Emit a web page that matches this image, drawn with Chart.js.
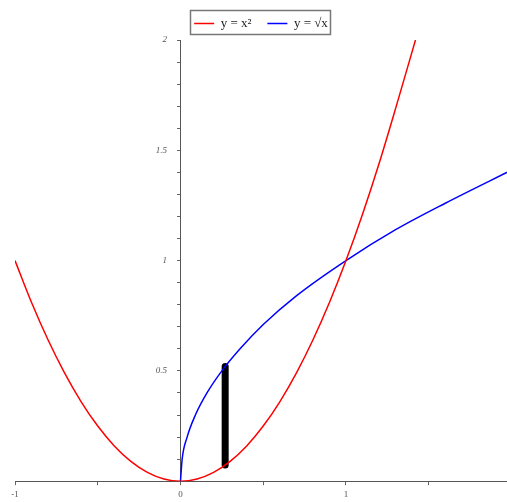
<!DOCTYPE html>
<html>
<head>
<meta charset="utf-8">
<script src="https://cdn.jsdelivr.net/npm/chart.js@4.4.0/dist/chart.umd.min.js"></script>
<style>
  html, body { margin: 0; padding: 0; background: #fff; }
  #wrap { width: 507px; height: 502px; }
</style>
</head>
<body>
<div id="wrap"><canvas id="plot"></canvas></div>
<script>
// y = x^2
const redX = [-1, -0.9, -0.8, -0.7, -0.6, -0.5, -0.4, -0.3, -0.2, -0.1, 0, 0.1, 0.2, 0.3, 0.4, 0.5, 0.6, 0.7, 0.8, 0.9, 1, 1.1, 1.2, 1.3, 1.42];
const redY = [1, 0.81, 0.64, 0.49, 0.36, 0.25, 0.16, 0.09, 0.04, 0.01, 0, 0.01, 0.04, 0.09, 0.16, 0.25, 0.36, 0.49, 0.64, 0.81, 1, 1.21, 1.44, 1.69, 2.0];
// y = sqrt(x), blue curve
const blueX = [0, 0.01, 0.04, 0.09, 0.16, 0.25, 0.36, 0.5, 0.7, 1, 1.3, 1.6, 2];
const blueY = [0, 0.1, 0.2, 0.3, 0.4, 0.5, 0.6, 0.71, 0.84, 1, 1.14, 1.26, 1.41];
// thick black segment
const barX = [0.27, 0.27];
const barY = [0.073, 0.52];

const legendNames = ['y = x\u00B2', 'y = \u221Ax'];

function pts(xs, ys) {
    return xs.map(function (x, i) { return { x: x, y: ys[i] }; });
}

// box round the legend items
const legendFrame = {
    id: 'legendFrame',
    afterDraw(chart) {
        const boxes = chart.legend.legendHitBoxes;
        if (!boxes || !boxes.length) return;
        let l = Infinity, r = -Infinity, t = Infinity, b = -Infinity;
        boxes.forEach(function (h) {
            l = Math.min(l, h.left); r = Math.max(r, h.left + h.width);
            t = Math.min(t, h.top); b = Math.max(b, h.top + h.height);
        });
        const ctx = chart.ctx;
        ctx.save();
        ctx.strokeStyle = '#777';
        ctx.lineWidth = 1.5;
        ctx.strokeRect(Math.round(l) - 3.5, Math.round(t) - 6.5, Math.round(r - l) + 6, Math.round(b - t) + 11);
        ctx.restore();
    }
};

const data = {
    datasets: [
        {
            label: legendNames[0],
            data: pts(redX, redY),
            borderColor: '#ff0000',
            borderWidth: 1.5,
            pointRadius: 0,
            cubicInterpolationMode: 'monotone',
        },
        {
            label: legendNames[1],
            data: pts(blueX, blueY),
            borderColor: '#0000ff',
            borderWidth: 1.5,
            pointRadius: 0,
            cubicInterpolationMode: 'monotone',
        },
        {
            label: 'bar',
            data: pts(barX, barY),
            borderColor: '#000000',
            borderWidth: 7,
            borderCapStyle: 'round',
            pointRadius: 0,
        }
    ]
};

const config = {
    type: 'line',
    data: data,
    plugins: [legendFrame],
    options: {
        responsive: true,
        maintainAspectRatio: false,
        animation: false,
        layout: { padding: { left: 15, right: 0, top: 1, bottom: -2 } },
        plugins: {
            tooltip: { enabled: false },
            legend: {
                position: 'top',
                labels: {
                    usePointStyle: true,
                    pointStyle: 'line',
                    pointStyleWidth: 20,
                    boxHeight: 10,
                    padding: 16,
                    color: '#222',
                    font: { family: 'Liberation Serif', size: 13 },
                    filter: function (item) { return item.datasetIndex < 2; }
                }
            }
        },
        scales: {
            x: {
                type: 'linear',
                position: 'bottom',
                min: -1,
                max: 1.973,
                grid: { drawOnChartArea: false, tickLength: 4, color: '#666' },
                border: { color: '#555', width: 1 },
                ticks: {
                    stepSize: 0.5,
                    includeBounds: false,
                    maxRotation: 0,
                    autoSkip: false,
                    padding: 4,
                    color: '#555',
                    font: { family: 'Liberation Serif', size: 9 },
                    callback: function (v) { return Number.isInteger(v) ? String(v) : ''; }
                }
            },
            y: {
                type: 'linear',
                position: { x: 0 },
                min: 0,
                max: 2,
                afterFit: function (scale) { scale.width = 0; },
                grid: { drawOnChartArea: false, tickLength: 3, color: '#666' },
                border: { color: '#555', width: 1 },
                ticks: {
                    stepSize: 0.1,
                    autoSkip: false,
                    color: '#555',
                    font: { family: 'Liberation Serif', size: 9, style: 'italic' },
                    // en spaces keep the label clear of the tick marks
                    callback: function (v) {
                        if (v === 0) return '';
                        return Math.abs(v * 2 - Math.round(v * 2)) < 1e-6 ? String(Math.round(v * 10) / 10) + '\u2002\u2002\u2002' : '';
                    }
                }
            }
        }
    }
};

new Chart(document.getElementById('plot'), config);
</script>
</body>
</html>
